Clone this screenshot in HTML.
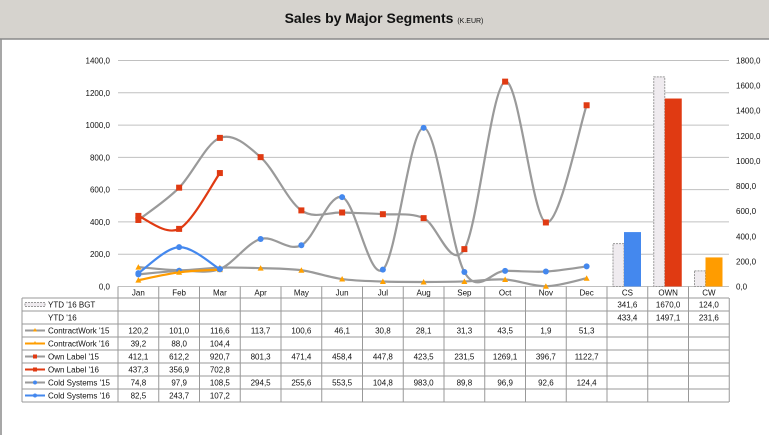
<!DOCTYPE html>
<html><head><meta charset="utf-8"><style>
body{margin:0;width:769px;height:435px;overflow:hidden;background:#fff;font-family:"Liberation Sans",sans-serif}
</style></head><body>
<svg id="c" width="769" height="435" xmlns="http://www.w3.org/2000/svg" style="display:block">
<rect x="0" y="0" width="769" height="39" fill="#d6d3ce"/>
<line x1="0" y1="39" x2="769" y2="39" stroke="#8a8a8a" stroke-width="1.5"/>
<line x1="1" y1="39" x2="1" y2="435" stroke="#8a8a8a" stroke-width="1.5"/>
<text x="384" y="23" text-anchor="middle" font-size="14" font-weight="bold" fill="#111">Sales by Major Segments <tspan font-size="7" font-weight="normal">(K.EUR)</tspan></text>
<g id="grid"></g><g id="bars"></g><g id="lines"></g><g id="table"></g>
</svg>
<script>
const months=['Jan','Feb','Mar','Apr','May','Jun','Jul','Aug','Sep','Oct','Nov','Dec'];
const segs=['CS','OWN','CW'];
const cw15=[120.2,101.0,116.6,113.7,100.6,46.1,30.8,28.1,31.3,43.5,1.9,51.3];
const cw16=[39.2,88.0,104.4];
const own15=[412.1,612.2,920.7,801.3,471.4,458.4,447.8,423.5,231.5,1269.1,396.7,1122.7];
const own16=[437.3,356.9,702.8];
const cs15=[74.8,97.9,108.5,294.5,255.6,553.5,104.8,983.0,89.8,96.9,92.6,124.4];
const cs16=[82.5,243.7,107.2];
const bgt=[341.6,1670.0,124.0];
const ytd=[433.4,1497.1,231.6];
const leftTicks=[0,200,400,600,800,1000,1200,1400];
const rightTicks=[0,200,400,600,800,1000,1200,1400,1600,1800];
const NS='http://www.w3.org/2000/svg';
const X0=118,CW=40.75,Y0=286.5,YT=60.5;
const yL=v=>Y0-v/1400*(Y0-YT);
const yR=v=>Y0-v/1800*(Y0-YT);
const xM=i=>X0+CW*(i+0.5);
const fmt=v=>v.toFixed(1).replace('.',',');
function mk(t,a,p){const e=document.createElementNS(NS,t);for(const k in a)e.setAttribute(k,a[k]);p.appendChild(e);return e;}
const G=document.getElementById('grid');
leftTicks.forEach(v=>{
 const l=mk('line',{x1:X0,x2:729,y1:yL(v),y2:yL(v),stroke:'#c0c0c0'},G);
 
 
 const t=mk('text',{x:110,y:yL(v)+3,'text-anchor':'end','font-size':8,fill:'#111'},G);t.textContent=fmt(v);
 
 
});
rightTicks.forEach(v=>{
 const t=mk('text',{x:736,y:yR(v)+3,'font-size':8,fill:'#111'},G);t.textContent=fmt(v);
 
 
});
const B=document.getElementById('bars');
const bcol=['#4488ee','#e03a12','#ff9c00'];
segs.forEach((s,i)=>{
 const cx=X0+CW*(12+i);
 const r1=mk('rect',{x:cx+6,y:yR(bgt[i]),width:11,height:Y0-yR(bgt[i]),fill:'#efebef',stroke:'#999','stroke-dasharray':'2,1'},B);
 
 
 const r2=mk('rect',{x:cx+17,y:yR(ytd[i]),width:17,height:Y0-yR(ytd[i]),fill:bcol[i]},B);
 
 
});
function smooth(pts){let d='M'+pts[0][0]+','+pts[0][1];
 for(let i=0;i<pts.length-1;i++){const p0=pts[i-1]||pts[i],p1=pts[i],p2=pts[i+1],p3=pts[i+2]||p2;
  d+=' C'+(p1[0]+(p2[0]-p0[0])/6)+','+(p1[1]+(p2[1]-p0[1])/6)+' '+(p2[0]-(p3[0]-p1[0])/6)+','+(p2[1]-(p3[1]-p1[1])/6)+' '+p2[0]+','+p2[1];}
 return d;}
const L=document.getElementById('lines');
function series(vals,lc,mc,mtype,name){
 const pts=vals.map((v,i)=>[xM(i),yL(v)]);
 const p=mk('path',{d:smooth(pts),fill:'none',stroke:lc,'stroke-width':2.2},L);
 
 
 pts.forEach(([x,y])=>{let m;
  if(mtype==='sq')m=mk('rect',{x:x-3,y:y-3,width:6,height:6,fill:mc},L);
  else if(mtype==='ci')m=mk('circle',{cx:x,cy:y,r:3,fill:mc},L);
  else m=mk('polygon',{points:`${x},${y-3} ${x+3},${y+2.5} ${x-3},${y+2.5}`,fill:mc},L);
  
  });
}
series(cw15,'#9a9a9a','#ffa000','tr','contractwork-15');
series(own15,'#9a9a9a','#e03a12','sq','own-label-15');
series(cs15,'#9a9a9a','#4488ee','ci','cold-systems-15');
series(cw16,'#ff9c00','#ffa000','tr','contractwork-16');
series(own16,'#e03a12','#e03a12','sq','own-label-16');
series(cs16,'#4488ee','#4488ee','ci','cold-systems-16');
// table
const T=document.getElementById('table');
const rows=[
 ['YTD \'16 BGT',[],bgt,'bgt'],['YTD \'16',[],ytd,'ytd'],
 ['ContractWork \'15',cw15,[],'#9a9a9a','#ffa000','tr'],['ContractWork \'16',cw16,[],'#ff9c00','#ffa000','tr'],
 ['Own Label \'15',own15,[],'#9a9a9a','#e03a12','sq'],['Own Label \'16',own16,[],'#e03a12','#e03a12','sq'],
 ['Cold Systems \'15',cs15,[],'#9a9a9a','#4488ee','ci'],['Cold Systems \'16',cs16,[],'#4488ee','#4488ee','ci']];
const RT=298,RH=13,LX=22,RX=729;
// header labels
months.concat(segs).forEach((m,i)=>{const t=mk('text',{x:xM(i),y:RT-2.5,'text-anchor':'middle','font-size':8,fill:'#111'},T);t.textContent=m;
 
 });
for(let i=0;i<=15;i++){mk('line',{x1:X0+CW*i,x2:X0+CW*i,y1:i<15?Y0:RT,y2:RT+RH*8,stroke:'#999'},T);}
mk('line',{x1:LX,x2:LX,y1:RT,y2:RT+RH*8,stroke:'#999'},T);
for(let r=0;r<=8;r++)mk('line',{x1:LX,x2:RX,y1:RT+RH*r,y2:RT+RH*r,stroke:'#999'},T);
rows.forEach((row,r)=>{const y=RT+RH*r+9.5,ym=RT+RH*r+6.5;
 const t=mk('text',{x:48,y:y,'font-size':8,fill:'#111'},T);t.textContent=row[0];
 
 
 if(row[3]==='bgt')mk('rect',{x:25,y:ym-2,width:20,height:4,fill:'#efebef',stroke:'#999','stroke-dasharray':'2,1'},T);
 else if(row[3]!=='ytd'){mk('line',{x1:25,x2:45,y1:ym,y2:ym,stroke:row[3],'stroke-width':2},T);
  if(row[5]==='sq')mk('rect',{x:33,y:ym-2,width:4,height:4,fill:row[4]},T);
  else if(row[5]==='ci')mk('circle',{cx:35,cy:ym,r:2,fill:row[4]},T);
  else mk('polygon',{points:`35,${ym-2.5} 37,${ym+1} 33,${ym+1}`,fill:row[4]},T);}
 row[1].forEach((v,i)=>{const c=mk('text',{x:xM(i),y:y,'text-anchor':'middle','font-size':8,fill:'#111'},T);c.textContent=fmt(v);
  
  });
 row[2].forEach((v,i)=>{const c=mk('text',{x:xM(12+i),y:y,'text-anchor':'middle','font-size':8,fill:'#111'},T);c.textContent=fmt(v);
  
  });
});
</script>
</body></html>
